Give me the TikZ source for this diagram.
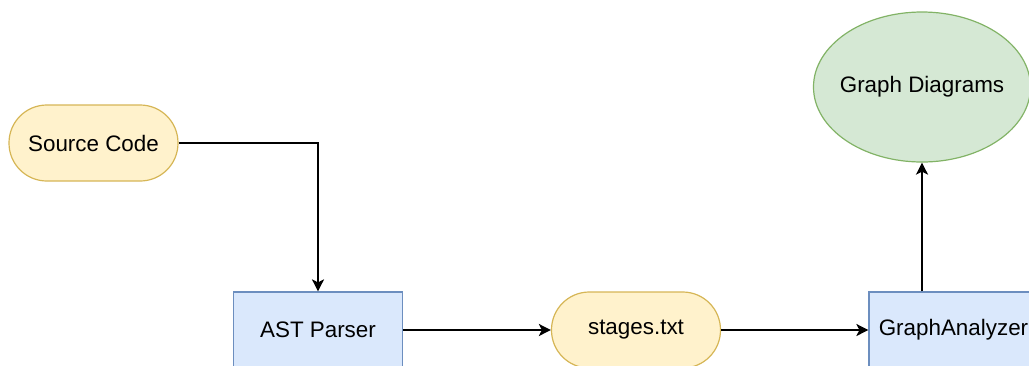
\documentclass[tikz,border=0pt]{standalone}
\usepackage{fontspec}
\setmainfont{Liberation Sans}
\usetikzlibrary{arrows.meta,shapes.geometric}

\definecolor{yellowfill}{HTML}{FFF2CC}
\definecolor{yellowline}{HTML}{D6B656}
\definecolor{bluefill}{HTML}{DAE8FC}
\definecolor{blueline}{HTML}{6C8EBF}
\definecolor{greenfill}{HTML}{D5E8D4}
\definecolor{greenline}{HTML}{82B366}

\begin{document}
\begin{tikzpicture}[
		x=0.5pt, y=-0.5pt,
		every node/.style={font=\fontsize{11.2}{13}\selectfont, line width=0.6pt},
		datafile/.style={rectangle, rounded corners=18.9pt, draw=yellowline, fill=yellowfill, minimum width=84.5pt, minimum height=38pt},
		process/.style={rectangle, draw=blueline, fill=bluefill, minimum width=84.5pt, minimum height=38pt},
		result/.style={ellipse, inner sep=0pt, draw=greenline, fill=greenfill, minimum width=108.5pt, minimum height=75pt},
		flow/.style={-{Stealth[length=6pt,width=6pt,inset=1.5pt]}, line width=0.9pt}
		]
		\useasboundingbox (0,0) rectangle (1029,365);
		\node[datafile] (source) at (93.5,143) {Source Code};
		\node[process] (parser) at (318,330) {AST Parser};
		\node[datafile] (stages) at (636,330) {stages.txt};
		\node[process] (analyzer) at (953.5,330) {GraphAnalyzer};
		% ellipse drawn empty, the label sits on top of it
		\node[result] (diagrams) at (922,87) {};
		\node (diagramslabel) at (diagrams) {Graph Diagrams};

		\draw[flow] (source.east) -| (parser.north);
		\draw[flow] (parser) -- (stages);
		\draw[flow] (stages) -- (analyzer);
		\draw[flow] (analyzer.north -| diagrams.south) -- (diagrams.south);
	\end{tikzpicture}
\end{document}
